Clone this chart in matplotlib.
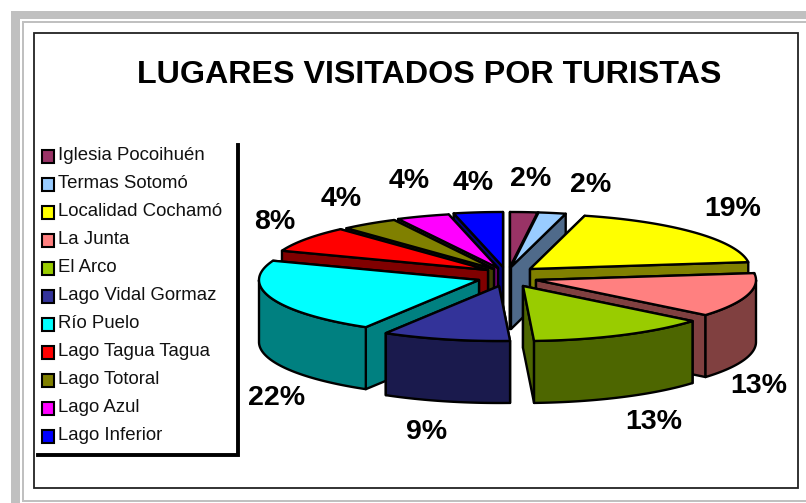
import numpy as np
import matplotlib
matplotlib.use("Agg")
import matplotlib.pyplot as plt
from matplotlib.patches import Polygon, Rectangle

plt.rcParams['font.family'] = ['Liberation Sans', 'DejaVu Sans']

# Data
lugares = ["Iglesia Pocoihuén", "Termas Sotomó", "Localidad Cochamó", "La Junta",
           "El Arco", "Lago Vidal Gormaz", "Río Puelo", "Lago Tagua Tagua",
           "Lago Totoral", "Lago Azul", "Lago Inferior"]
porcentajes = [2, 2, 19, 13, 13.2, 9.4, 22.1, 7.6, 4.2, 3.9, 3.6]
colores = ["#993366", "#99CCFF", "#FFFF00", "#FF8080", "#99CC00", "#333399",
           "#00FFFF", "#FF0000", "#808000", "#FF00FF", "#0000FF"]
lados = ["#7A2952", "#4F6A8A", "#808000", "#804040", "#4D6600", "#1A1A4D",
         "#008080", "#800000", "#404000", "#800080", "#000080"]
titulo = "LUGARES VISITADOS POR TURISTAS"

# Layout in pixels (the whole figure is one axes)
apex_x = [510, 511, 530, 536, 523, 499, 479, 488, 494, 498, 503]
apex_y = [267, 267, 269, 280, 286, 286, 280, 270, 269, 268, 267]
label_x = [531, 591, 733, 759, 654, 427, 277, 275, 341, 409, 473]
label_y = [179, 185, 209, 386, 422, 432, 398, 222, 199, 181, 183]
draw_order = [10, 9, 8, 7, 0, 1, 2, 3, 6, 5, 4]
RX, RY, DEPTH = 220, 55, 62
LW = 1.7


def pt(cx, cy, ang):
    # ang: degrees clockwise from the top of the pie
    a = np.radians(ang)
    return cx + RX * np.sin(a), cy - RY * np.cos(a)


def arc(cx, cy, a0, a1):
    t = np.linspace(a0, a1, max(int(abs(a1 - a0)) * 2, 2))
    return np.column_stack(pt(cx, cy, t))


def face(ax, pts, color):
    ax.add_patch(Polygon(pts, closed=True, facecolor=color, edgecolor="black",
                         linewidth=LW, joinstyle="round"))


def wall(ax, cx, cy, ang, color):
    x, y = pt(cx, cy, ang)
    face(ax, [(cx, cy), (x, y), (x, y + DEPTH), (cx, cy + DEPTH)], color)


def slice3d(ax, cx, cy, a0, a1, top, side):
    mid = (a0 + a1) / 2
    first, second = (a0, a1) if mid < 180 else (a1, a0)
    wall(ax, cx, cy, first, side)
    wall(ax, cx, cy, second, side)
    lo, hi = max(a0, 90), min(a1, 270)
    if hi > lo:
        up = arc(cx, cy, lo, hi)
        down = up[::-1] + [0, DEPTH]
        face(ax, np.vstack([up, down]), side)
    face(ax, np.vstack([[(cx, cy)], arc(cx, cy, a0, a1)]), top)


fig = plt.figure(figsize=(8.06, 5.03), dpi=100)
ax = fig.add_axes([0, 0, 1, 1])
ax.set_xlim(0, 806)
ax.set_ylim(503, 0)
ax.axis("off")

# Page frames
ax.add_patch(Rectangle((11, 11), 795, 8, fc="#C0C0C0", ec="none"))
ax.add_patch(Rectangle((11, 11), 9, 492, fc="#C0C0C0", ec="none"))
ax.add_patch(Rectangle((22, 21), 784, 2, fc="#C0C0C0", ec="none"))
ax.add_patch(Rectangle((22, 21), 1.5, 480, fc="#C0C0C0", ec="none"))
ax.add_patch(Rectangle((22, 499.5), 784, 2, fc="#C0C0C0", ec="none"))
ax.add_patch(Rectangle((33.5, 32.5), 764, 455.5, fc="white", ec="#222222", lw=1.3))

ax.text(429.5, 75, titulo, fontsize=23.2, fontweight="bold", ha="center", va="center")

# Legend
ax.plot([238, 238, 38], [145, 455, 455], color="black", lw=2.8,
        solid_joinstyle="miter")
for i, nombre in enumerate(lugares):
    y = 156 + i * 28
    ax.add_patch(Rectangle((41.5, y - 6), 12, 13, fc=colores[i], ec="black", lw=1.5))
    ax.text(58, y, nombre, fontsize=13.4, ha="left", va="center", color="#111111")

# Pie
bordes = np.cumsum([0] + porcentajes) * 3.6
for i in draw_order:
    slice3d(ax, apex_x[i], apex_y[i], bordes[i], bordes[i + 1], colores[i], lados[i])

for i, p in enumerate(porcentajes):
    ax.text(label_x[i], label_y[i], f"{round(p)}%", fontsize=20.5, fontweight="bold",
            ha="center", va="center")

fig.savefig("out.png", dpi=100)
